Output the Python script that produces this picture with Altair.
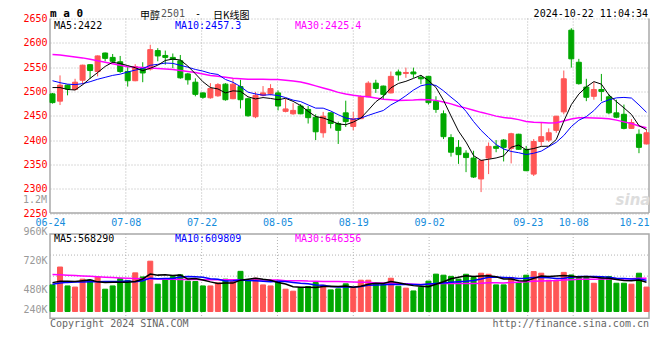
import altair as alt
import pandas as pd

# ---------------- data ----------------
dates = ["06-24", "06-25", "06-26", "06-27", "06-28",
         "07-01", "07-02", "07-03", "07-04", "07-05",
         "07-08", "07-09", "07-10", "07-11", "07-12",
         "07-15", "07-16", "07-17", "07-18", "07-19",
         "07-22", "07-23", "07-24", "07-25", "07-26",
         "07-29", "07-30", "07-31", "08-01", "08-02",
         "08-05", "08-06", "08-07", "08-08", "08-09",
         "08-12", "08-13", "08-14", "08-15", "08-16",
         "08-19", "08-20", "08-21", "08-22", "08-23",
         "08-26", "08-27", "08-28", "08-29", "08-30",
         "09-02", "09-03", "09-04", "09-05", "09-06",
         "09-09", "09-10", "09-11", "09-12", "09-13",
         "09-18", "09-19", "09-20",
         "09-23", "09-24", "09-25", "09-26", "09-27",
         "09-30",
         "10-08", "10-09", "10-10", "10-11",
         "10-14", "10-15", "10-16", "10-17", "10-18",
         "10-21", "10-22"]

open_ = [2495, 2480, 2513, 2504, 2523, 2555, 2541, 2579, 2570, 2561,
         2541, 2522, 2549, 2546, 2584, 2574, 2570, 2563, 2536, 2519,
         2497, 2487, 2491, 2515, 2485, 2510, 2485, 2448, 2492, 2495,
         2497, 2459, 2454, 2470, 2463, 2447, 2415, 2456, 2434, 2456,
         2428, 2444, 2489, 2517, 2511, 2497, 2540, 2537, 2540, 2529,
         2531, 2480, 2454, 2405, 2385, 2373, 2363, 2320, 2363, 2387,
         2400, 2383, 2412, 2381, 2330, 2397, 2400, 2420, 2458, 2626,
         2560, 2509, 2490, 2504, 2489, 2456, 2453, 2424, 2412, 2392]
high_ = [2497, 2533, 2514, 2526, 2555, 2556, 2574, 2580, 2577, 2573,
         2552, 2556, 2560, 2596, 2589, 2584, 2578, 2575, 2538, 2527,
         2498, 2517, 2517, 2517, 2526, 2524, 2487, 2499, 2511, 2515,
         2502, 2485, 2476, 2474, 2470, 2453, 2458, 2457, 2438, 2481,
         2458, 2492, 2521, 2524, 2512, 2541, 2545, 2549, 2549, 2533,
         2532, 2490, 2461, 2412, 2400, 2379, 2378, 2358, 2395, 2400,
         2402, 2415, 2413, 2388, 2402, 2436, 2424, 2450, 2543, 2630,
         2567, 2526, 2519, 2536, 2494, 2483, 2473, 2443, 2422, 2422]
low_ = [2475, 2472, 2492, 2502, 2514, 2526, 2531, 2562, 2557, 2538,
        2510, 2521, 2519, 2543, 2562, 2555, 2548, 2526, 2514, 2490,
        2485, 2485, 2489, 2481, 2484, 2465, 2448, 2445, 2490, 2492,
        2461, 2457, 2452, 2453, 2434, 2400, 2405, 2424, 2392, 2427,
        2420, 2443, 2488, 2497, 2483, 2496, 2522, 2528, 2528, 2515,
        2473, 2456, 2402, 2366, 2351, 2334, 2322, 2293, 2330, 2375,
        2356, 2352, 2380, 2336, 2326, 2388, 2396, 2415, 2453, 2549,
        2514, 2480, 2483, 2480, 2453, 2445, 2422, 2423, 2373, 2391]
close_ = [2477, 2513, 2505, 2519, 2554, 2543, 2573, 2568, 2562, 2541,
          2522, 2551, 2538, 2586, 2573, 2570, 2566, 2528, 2524, 2494,
          2488, 2506, 2514, 2483, 2515, 2483, 2450, 2492, 2497, 2506,
          2470, 2464, 2461, 2454, 2446, 2417, 2449, 2434, 2420, 2438,
          2444, 2489, 2517, 2506, 2494, 2531, 2534, 2539, 2536, 2526,
          2477, 2463, 2407, 2375, 2370, 2364, 2324, 2358, 2387, 2383,
          2385, 2413, 2381, 2337, 2397, 2407, 2415, 2449, 2526, 2567,
          2516, 2488, 2504, 2500, 2456, 2447, 2424, 2436, 2385, 2415]
volume = [516500, 862900, 496000, 473500, 627400, 607000, 670400, 432700, 496000, 638700,
          602500, 749700, 670400, 976000, 530000, 641000, 677200, 711200, 589000, 582000,
          496000, 496000, 555000, 627400, 582000, 779000, 595700, 645500, 516500, 496000,
          568600, 432700, 394200, 464400, 484800, 561800, 509700, 419100, 439500, 536900,
          453100, 607000, 607000, 530000, 523300, 645500, 489300, 453100, 398800, 471200,
          589000, 724800, 704400, 681800, 627400, 722500, 659100, 742900, 722500, 516500,
          516500, 659100, 561800, 704400, 774600, 742900, 607000, 607000, 758700, 708900,
          659100, 659100, 548200, 679500, 679500, 548200, 548200, 530000, 742900, 473500]

# moving-average values at the start of the window
ma5_head = [2508, 2508, 2504, 2503]
ma10_head = [2522, 2518, 2515, 2514, 2516, 2520, 2525, 2529, 2533]
ma30_head = [2576, 2575, 2573, 2571, 2569, 2566, 2563, 2560, 2557, 2554,
             2551, 2550, 2549, 2548, 2547, 2546, 2545, 2543, 2541, 2539,
             2536, 2533, 2531, 2529, 2527, 2526, 2525, 2525, 2525]
vma5_head = [560000, 585000, 585000, 580000]
vma10_head = [530000, 555000, 565000, 570000, 572000, 575000, 578000, 580000, 582000]
vma30_head = [718000, 712000, 705000, 697000, 690000, 682000, 674000, 666000, 658000, 651000,
              645000, 640000, 636000, 632000, 629000, 626000, 624000, 622000, 620000, 619000,
              618000, 617000, 616000, 615000, 614000, 613000, 613000, 612000, 612000]

label_dates = ["06-24", "07-08", "07-22", "08-05", "08-19", "09-02", "09-23", "10-08", "10-21"]
price_ticks = [2250, 2300, 2350, 2400, 2450, 2500, 2550, 2600, 2650]
vol_ticks = [240000, 480000, 720000, 960000]

# ---------------- table ----------------
df = pd.DataFrame({"date": dates, "open": open_, "high": high_, "low": low_,
                   "close": close_, "volume": volume})
df["dir"] = ["up" if c >= o else "down" for o, c in zip(open_, close_)]


def ma(series, n, head):
    s = pd.Series(series, dtype=float).rolling(n).mean()
    s.iloc[:len(head)] = head
    return s


df["ma5"] = ma(close_, 5, ma5_head)
df["ma10"] = ma(close_, 10, ma10_head)
df["ma30"] = ma(close_, 30, ma30_head)
df["vma5"] = ma(volume, 5, vma5_head)
df["vma10"] = ma(volume, 10, vma10_head)
df["vma30"] = ma(volume, 30, vma30_head)

# ---------------- geometry ----------------
W, H = 599, 300
P_TOP, P_BOT = 0.0, 194.5          # price panel (px inside plot)
V_TOP, V_BOT = 215.5, 299.8        # volume panel
p_per_px = (2650 - 2250) / (P_BOT - P_TOP)
price_domain = [2650 - H * p_per_px, 2650]
VOL_ZERO_PX, VOL_PER_PX = 293.0, 19400.0
vol_domain = [-(H - VOL_ZERO_PX) * VOL_PER_PX, VOL_ZERO_PX * VOL_PER_PX]
VL_PER_PX = 8276.0
vlab_domain = [240000, 240000 + H * VL_PER_PX]

RED, GREEN = "#FF5555", "#00A800"
GRID, FRAME = "#B4B4B4", "#A8A8A8"
MONO = "DejaVu Sans Mono"
CJK = "Noto Sans CJK SC"

dir_scale = alt.Scale(domain=["up", "down"], range=[RED, GREEN])
band = alt.Scale(type="band", domain=dates, paddingInner=0.333, paddingOuter=0)
pts = alt.Scale(type="point", domain=dates, padding=0)
xb = alt.X("date:O", scale=band, axis=None)

price_scale = alt.Scale(domain=price_domain, nice=False, zero=False)
price_axis = alt.Axis(orient="left", values=price_ticks, title=None, ticks=False, domain=False,
                      format="d", labelColor="#FF0000", labelFont=MONO, labelFontSize=10,
                      labelPadding=3, labelFlush=False, grid=True, gridColor=GRID,
                      gridDash=[1, 2])


def py(field):
    return alt.Y(field, type="quantitative", scale=price_scale, axis=price_axis)


pbase = alt.Chart(df)
wick = pbase.mark_rule(strokeWidth=1).encode(
    x=xb, y=py("low"), y2="high:Q",
    color=alt.Color("dir:N", scale=dir_scale, legend=None))
body = pbase.mark_bar(strokeWidth=1).encode(
    x=xb, y=py("open"), y2="close:Q",
    fill=alt.Fill("dir:N", scale=dir_scale, legend=None),
    stroke=alt.Stroke("dir:N", scale=dir_scale, legend=None))
ma30_l = pbase.mark_line(color="#FF00FF", strokeWidth=1.5).encode(x=xb, y=py("ma30"))
ma10_l = pbase.mark_line(color="#0000FF", strokeWidth=1).encode(x=xb, y=py("ma10"))
ma5_l = pbase.mark_line(color="#000000", strokeWidth=1).encode(x=xb, y=py("ma5"))
price = alt.layer(wick, body, ma30_l, ma10_l, ma5_l)

vol_scale = alt.Scale(domain=vol_domain, nice=False, zero=False)


def vy(field):
    return alt.Y(field, type="quantitative", scale=vol_scale, axis=None)


vbars = pbase.mark_bar(strokeWidth=1).encode(
    x=xb, y=vy("volume"), y2=alt.datum(0),
    fill=alt.Fill("dir:N", scale=dir_scale, legend=None),
    stroke=alt.Stroke("dir:N", scale=dir_scale, legend=None))
v30 = pbase.mark_line(color="#FF00FF", strokeWidth=1.5).encode(x=xb, y=vy("vma30"))
v10 = pbase.mark_line(color="#0000FF", strokeWidth=1.5).encode(x=xb, y=vy("vma10"))
v5 = pbase.mark_line(color="#000000", strokeWidth=1.5).encode(x=xb, y=vy("vma5"))
vol = alt.layer(vbars, v30, v10, v5)

vlab = alt.Chart(pd.DataFrame({"v": vol_ticks})).mark_point(opacity=0).encode(
    y=alt.Y("v:Q", scale=alt.Scale(domain=vlab_domain, nice=False, zero=False),
            axis=alt.Axis(orient="left", values=vol_ticks, title=None, ticks=False, domain=False,
                          grid=False, labelColor="#999999", labelFont=MONO, labelFontSize=10,
                          labelPadding=3, labelFlush=1, labelFlushOffset=-4,
                          labelExpr="format(datum.value / 1000, 'd') + 'K'")))

# vertical grid + date labels (Sina spaces these over n-1 steps)
grid_df = pd.DataFrame({"date": label_dates[1:-1]})
date_axis = alt.Axis(orient="bottom", values=label_dates[:-1], offset=-(H - P_BOT), title=None,
                     labelAngle=0, ticks=False, domain=False, grid=False, labelOverlap=False,
                     labelFlush=False, labelColor="#148CDC", labelFont=MONO, labelFontSize=10,
                     labelPadding=4)
gx = alt.X("date:O", scale=pts, axis=date_axis)
vgrid_p = alt.Chart(grid_df).mark_rule(color=GRID, strokeDash=[1, 2]).encode(
    x=gx, y=alt.value(P_TOP), y2=alt.value(P_BOT))
vgrid_v = alt.Chart(grid_df).mark_rule(color=GRID, strokeDash=[1, 2]).encode(
    x=gx, y=alt.value(V_TOP), y2=alt.value(V_BOT))
dgrid = alt.layer(vgrid_p, vgrid_v)
last_lab = alt.Chart(pd.DataFrame({"date": label_dates[-1:]})).mark_point(opacity=0).encode(
    x=alt.X("date:O", scale=pts,
            axis=alt.Axis(orient="bottom", values=label_dates[-1:], offset=-(H - P_BOT), title=None,
                          labelAngle=0, ticks=False, domain=False, grid=False,
                          labelFlush=15, labelFlushOffset=7.6, labelColor="#148CDC",
                          labelFont=MONO, labelFontSize=10, labelPadding=4)))

one = pd.DataFrame({"k": [0]})


def hgrid(yv):
    return alt.Chart(one).mark_rule(color=GRID, strokeDash=[1, 2]).encode(
        x=alt.value(0), x2=alt.value(W), y=alt.value(yv))


q = (V_BOT - V_TOP) / 4
frames = alt.layer(
    hgrid(V_TOP + q), hgrid(V_TOP + 2 * q), hgrid(V_TOP + 3 * q),
    alt.Chart(one).mark_rule(color=FRAME, strokeWidth=1.5).encode(
        x=alt.value(0), y=alt.value(P_TOP), y2=alt.value(P_BOT)),
    alt.Chart(one).mark_rule(color=FRAME, strokeWidth=1.5).encode(
        x=alt.value(W), y=alt.value(P_TOP), y2=alt.value(P_BOT)),
    alt.Chart(one).mark_rule(color=FRAME, strokeWidth=1.5).encode(
        x=alt.value(0), x2=alt.value(W), y=alt.value(P_BOT)),
    alt.Chart(one).mark_rect(fillOpacity=0, stroke=FRAME, strokeWidth=1.5).encode(
        x=alt.value(0), x2=alt.value(W), y=alt.value(V_TOP), y2=alt.value(V_BOT)),
)


def txt(s, x, y, color="#000000", size=10, font=MONO, align="left", weight="normal", style="normal"):
    return alt.Chart(one).mark_text(align=align, baseline="middle", font=font, fontSize=size,
                                    fontWeight=weight, fontStyle=style, color=color).encode(
        x=alt.value(x), y=alt.value(y), text=alt.value(s))


TY = -4.3   # title row (just below the top edge of the page area)
CY = -3.0   # CJK pieces of the title (taller font box)
MY = 7.2    # MA legend row in the price panel
texts = alt.layer(
    txt("m a 0", 0, TY, size=11, weight="bold"),
    txt("甲醇", 90, CY, size=10, font=CJK),
    txt("2501", 111, TY, color="#555555", size=10),
    txt("-", 148, TY, size=10, align="center"),
    txt("日K线图", 163, CY, size=10, font=CJK),
    txt("2024-10-22 11:04:34", 598, TY, align="right"),
    txt("MA5:2422", 4, MY),
    txt("MA10:2457.3", 125, MY, color="#0000FF"),
    txt("MA30:2425.4", 245, MY, color="#FF00FF"),
    txt("MA5:568290", 4, 220.3),
    txt("MA10:609809", 125, 220.3, color="#0000FF"),
    txt("MA30:646356", 245, 220.3, color="#FF00FF"),
    txt("1.2M", -3, 181.5, color="#999999", align="right"),
    txt("sina", 583, 181.5, color="#DDDDDD", size=15, font="DejaVu Sans", align="center",
        weight="bold", style="italic"),
    txt("Copyright 2024 SINA.COM", 0, 305, color="#666666"),
    txt("http://finance.sina.com.cn", 599, 305, color="#666666", align="right"),
)

chart = alt.layer(dgrid, frames, price, vol, vlab, last_lab, texts).resolve_scale(
    x="independent", y="independent"
).properties(
    width=W, height=H,
    autosize=alt.AutoSizeParams(type="none"),
    padding={"left": 42, "top": 10.5, "right": 3, "bottom": 33.5},
    background="#FFFFFF",
).configure_view(stroke=None)

chart.save("out.html", embed_options={"renderer": "svg", "actions": False})
